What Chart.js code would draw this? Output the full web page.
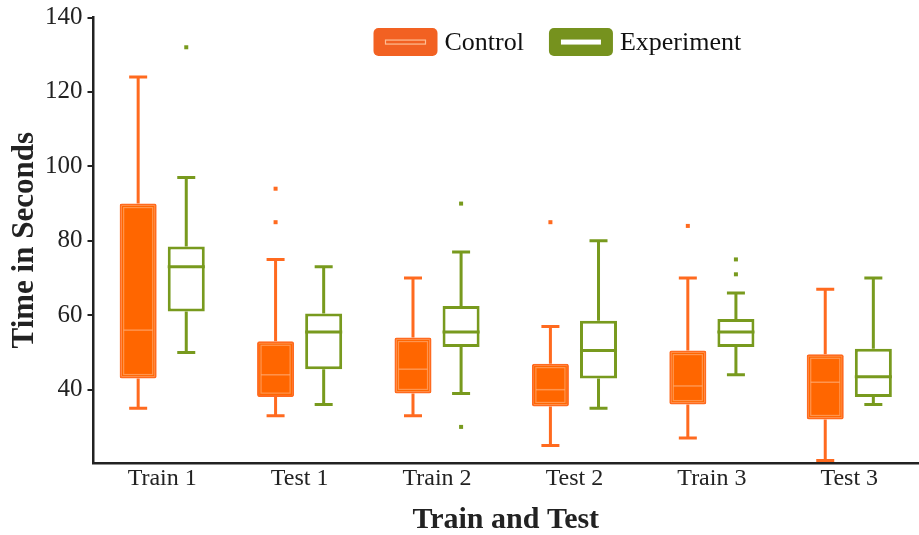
<!DOCTYPE html>
<html>
<head>
<meta charset="utf-8">
<script src="https://cdn.jsdelivr.net/npm/chart.js@4.4.1/dist/chart.umd.min.js"></script>
<style>
  body { margin: 0; background: #fff; }
  #wrap { width: 919px; height: 535px; position: relative; }
</style>
</head>
<body>
<div id="wrap"><canvas id="chart"></canvas></div>
<script>
// categories on the x axis
const categories = ['Train 1', 'Test 1', 'Train 2', 'Test 2', 'Train 3', 'Test 3'];
const yTicks = [40, 60, 80, 100, 120, 140];

// Control group (seconds)
const controlMin = [35, 33, 33, 25, 27, 21];
const controlQ1 = [43, 38, 39, 35.5, 36, 32];
const controlMedian = [56, 44, 45.5, 40, 41, 42];
const controlQ3 = [90, 53, 54, 47, 50.5, 49.5];
const controlMax = [124, 75, 70, 57, 70, 67];
const controlOutliers = [[], [94, 85], [], [85], [84], []];

// Experiment group (seconds)
const experimentMin = [50, 36, 39, 35, 44, 36];
const experimentQ1 = [61, 45.5, 51.5, 43, 51.5, 38];
const experimentMedian = [73, 55.5, 55.5, 50.5, 55.5, 43.5];
const experimentQ3 = [78.5, 60.5, 62.5, 58.5, 59, 51];
const experimentMax = [97, 73, 77, 80, 66, 70];
const experimentOutliers = [[132], [], [90, 30], [], [75, 71], []];

const ORANGE = '#FF6600';
const GREEN = '#789A1E';
const SERIF = '"Liberation Serif", "DejaVu Serif", serif';

// whiskers, caps behind the boxes; medians and outliers on top
const boxPlotPlugin = {
    id: 'boxPlot',
    beforeDatasetsDraw(chart) {
        const ctx = chart.ctx;
        const y = chart.scales.y;
        chart.data.datasets.forEach((ds, di) => {
            const meta = chart.getDatasetMeta(di);
            ctx.save();
            ctx.strokeStyle = ds.borderColor;
            ctx.lineWidth = 3;
            meta.data.forEach((bar, i) => {
                const x = bar.x;
                const cap = 9;
                const top = y.getPixelForValue(ds.maxs[i]);
                const bot = y.getPixelForValue(ds.mins[i]);
                ctx.beginPath();
                ctx.moveTo(x, y.getPixelForValue(ds.data[i][1]));
                ctx.lineTo(x, top);
                ctx.moveTo(x - cap, top);
                ctx.lineTo(x + cap, top);
                ctx.moveTo(x, y.getPixelForValue(ds.data[i][0]));
                ctx.lineTo(x, bot);
                ctx.moveTo(x - cap, bot);
                ctx.lineTo(x + cap, bot);
                ctx.stroke();
            });
            ctx.restore();
        });
    },
    afterDatasetsDraw(chart) {
        const ctx = chart.ctx;
        const y = chart.scales.y;
        chart.data.datasets.forEach((ds, di) => {
            const meta = chart.getDatasetMeta(di);
            ctx.save();
            meta.data.forEach((bar, i) => {
                const half = bar.width / 2;
                const ym = y.getPixelForValue(ds.medians[i]);
                if (ds.filled) {
                    // light inner outline and median of the filled box
                    const yt = y.getPixelForValue(ds.data[i][1]);
                    const yb = y.getPixelForValue(ds.data[i][0]);
                    ctx.strokeStyle = 'rgba(255, 180, 130, 0.6)';
                    ctx.lineWidth = 1.2;
                    ctx.strokeRect(bar.x - half + 4, yt + 4, bar.width - 8, yb - yt - 8);
                    ctx.beginPath();
                    ctx.moveTo(bar.x - half + 4, ym);
                    ctx.lineTo(bar.x + half - 4, ym);
                    ctx.lineWidth = 1.5;
                    ctx.stroke();
                } else {
                    ctx.strokeStyle = ds.borderColor;
                    ctx.lineWidth = 3;
                    ctx.beginPath();
                    ctx.moveTo(bar.x - half, ym);
                    ctx.lineTo(bar.x + half, ym);
                    ctx.stroke();
                }
                ctx.fillStyle = ds.borderColor;
                ds.outliers[i].forEach(v => {
                    const yo = y.getPixelForValue(v);
                    ctx.fillRect(bar.x - 2, yo - 2, 4, 4);
                });
            });
            ctx.restore();
        });
    },
    afterDraw(chart) {
        // legend drawn inside the plot area
        const ctx = chart.ctx;
        const area = chart.chartArea;
        let x = area.left + 280;
        const yc = chart.scales.y.getPixelForValue(133.4);
        ctx.save();
        ctx.font = '26px ' + SERIF;
        ctx.textBaseline = 'middle';
        chart.data.datasets.forEach(ds => {
            ctx.fillStyle = ds.legendColor;
            ctx.beginPath();
            ctx.roundRect(x, yc - 14, 64, 28, 5);
            ctx.fill();
            if (ds.filled) {
                ctx.strokeStyle = 'rgba(255, 200, 160, 0.9)';
                ctx.lineWidth = 1.2;
                ctx.strokeRect(x + 12, yc - 2, 40, 4);
            } else {
                ctx.fillStyle = '#fff';
                ctx.fillRect(x + 12, yc - 2.5, 40, 5);
            }
            ctx.fillStyle = '#111';
            ctx.fillText(ds.label, x + 71, yc + 1);
            x += 71 + ctx.measureText(ds.label).width + 25;
        });
        ctx.restore();
    }
};

const ctx = document.getElementById('chart').getContext('2d');
new Chart(ctx, {
    type: 'bar',
    data: {
        labels: categories,
        datasets: [{
            label: 'Control',
            data: controlQ1.map((q, i) => [q, controlQ3[i]]),
            mins: controlMin,
            maxs: controlMax,
            medians: controlMedian,
            outliers: controlOutliers,
            filled: true,
            legendColor: '#F26122',
            backgroundColor: ORANGE,
            borderColor: '#FF6A1F',
            borderWidth: 2,
            borderRadius: 2,
            borderSkipped: false
        }, {
            label: 'Experiment',
            data: experimentQ1.map((q, i) => [q, experimentQ3[i]]),
            mins: experimentMin,
            maxs: experimentMax,
            medians: experimentMedian,
            outliers: experimentOutliers,
            filled: false,
            legendColor: '#76921E',
            backgroundColor: '#ffffff',
            borderColor: GREEN,
            borderWidth: 3,
            borderSkipped: false
        }]
    },
    options: {
        responsive: true,
        maintainAspectRatio: false,
        animation: false,
        categoryPercentage: 0.7,
        barPercentage: 0.77,
        layout: { padding: { left: 9, right: 1, top: 7, bottom: 0 } },
        plugins: {
            legend: { display: false },
            tooltip: { enabled: false }
        },
        scales: {
            x: {
                grid: { display: false },
                border: { color: '#222', width: 2.5 },
                ticks: { color: '#222', font: { family: SERIF, size: 24, lineHeight: 1 }, padding: -4 },
                title: {
                    display: true,
                    text: 'Train and Test',
                    color: '#222',
                    font: { family: SERIF, size: 30, weight: 'bold', lineHeight: 1 },
                    padding: { top: 18, bottom: 0 }
                }
            },
            y: {
                min: 20.3,
                max: 140,
                afterBuildTicks: axis => { axis.ticks = yTicks.map(v => ({ value: v })); },
                grid: { drawOnChartArea: false, drawTicks: true, tickLength: 6, color: '#222', lineWidth: 2 },
                border: { color: '#222', width: 2.5 },
                ticks: { color: '#222', font: { family: SERIF, size: 25, lineHeight: 1 }, padding: 5 },
                title: {
                    display: true,
                    text: 'Time in Seconds',
                    color: '#222',
                    font: { family: SERIF, size: 31, weight: 'bold', lineHeight: 1 },
                    padding: { top: 0, bottom: 0 }
                }
            }
        }
    },
    plugins: [boxPlotPlugin]
});
</script>
</body>
</html>
